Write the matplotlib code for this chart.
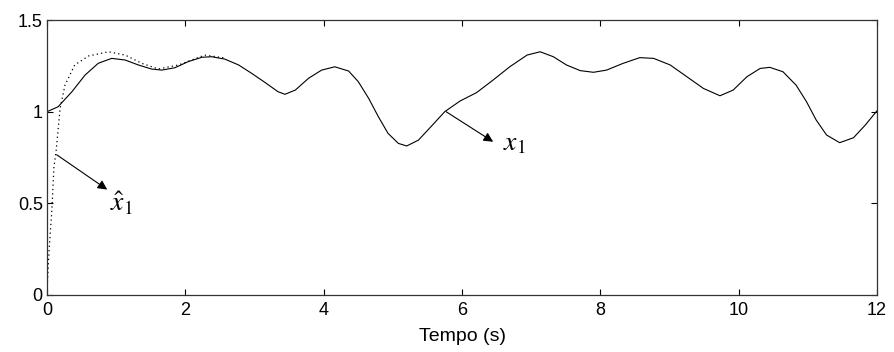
import matplotlib
matplotlib.use("Agg")
import matplotlib.pyplot as plt

# True state x1
t_x1 = [0.00, 0.16, 0.36, 0.55, 0.74, 0.935, 1.13, 1.32, 1.51, 1.66, 1.85, 2.04,
        2.24, 2.38, 2.57, 2.77, 2.96, 3.15, 3.34, 3.44, 3.59, 3.78, 3.97, 4.16,
        4.36, 4.50, 4.65, 4.79, 4.93, 5.08, 5.20, 5.37, 5.56, 5.75, 5.97, 6.21,
        6.45, 6.69, 6.94, 7.13, 7.32, 7.51, 7.71, 7.90, 8.09, 8.33, 8.57, 8.77,
        9.01, 9.25, 9.49, 9.73, 9.92, 10.12, 10.31, 10.45, 10.64, 10.83, 10.98, 11.12,
        11.27, 11.46, 11.66, 11.83, 12.00]
x1 = [1.000, 1.027, 1.109, 1.200, 1.264, 1.291, 1.282, 1.255, 1.233, 1.227, 1.240, 1.273,
      1.297, 1.300, 1.287, 1.255, 1.209, 1.160, 1.109, 1.095, 1.118, 1.182, 1.227, 1.245,
      1.222, 1.164, 1.073, 0.973, 0.882, 0.827, 0.813, 0.845, 0.922, 1.000, 1.058, 1.104,
      1.173, 1.245, 1.309, 1.327, 1.300, 1.255, 1.224, 1.215, 1.227, 1.264, 1.295, 1.291,
      1.255, 1.191, 1.127, 1.087, 1.118, 1.191, 1.236, 1.242, 1.218, 1.145, 1.055, 0.955,
      0.873, 0.831, 0.858, 0.927, 1.005]

# Estimate x1_hat (converges onto x1)
t_xh = [0.00, 0.005, 0.03, 0.07, 0.10, 0.13, 0.16, 0.19, 0.26, 0.40, 0.60, 0.89,
        1.13, 1.37, 1.61, 1.90, 2.28, 2.57]
xh = [0.000, 0.064, 0.245, 0.464, 0.700, 0.780, 0.900, 1.020, 1.145, 1.255, 1.304, 1.327,
      1.309, 1.264, 1.233, 1.255, 1.309, 1.293]

x_ticks = [0, 2, 4, 6, 8, 10, 12]
y_ticks = [0, 0.5, 1, 1.5]
y_tick_labels = ["0", "0.5", "1", "1.5"]

plt.rcParams["mathtext.fontset"] = "stix"

fig = plt.figure(figsize=(8.94, 3.52), dpi=100)
ax = fig.add_axes([0.0526, 0.162, 0.9284, 0.781])

ax.plot(t_xh, xh, color="black", lw=0.9, linestyle=(0, (1, 2.5)))
ax.plot(t_x1, x1, color="black", lw=0.8)

ax.set_xlim(0, 12)
ax.set_ylim(0, 1.5)
ax.set_xticks(x_ticks)
ax.set_yticks(y_ticks)
ax.set_yticklabels(y_tick_labels)
ax.tick_params(direction="in", length=4, width=0.8, top=True, right=True,
               labelsize=13, colors="black")
ax.tick_params(axis="x", pad=5)
ax.tick_params(axis="y", pad=3)
for lab in ax.get_xticklabels() + ax.get_yticklabels():
    lab.set_family("Liberation Sans")
for s in ax.spines.values():
    s.set_linewidth(0.9)
    s.set_color("#333333")

ax.set_xlabel("Tempo (s)", fontsize=14, family="Liberation Sans", labelpad=6.5)

ax.annotate("", xy=(0.87, 0.575), xytext=(0.14, 0.765),
            arrowprops=dict(arrowstyle="-|>", color="black", lw=0.8,
                            mutation_scale=14, shrinkA=0, shrinkB=0))
ax.text(1.08, 0.50, r"$\hat{x}_1$", fontsize=20, ha="center", va="center")

ax.annotate("", xy=(6.45, 0.836), xytext=(5.77, 1.0),
            arrowprops=dict(arrowstyle="-|>", color="black", lw=0.8,
                            mutation_scale=14, shrinkA=0, shrinkB=0))
ax.text(6.75, 0.83, r"$x_1$", fontsize=20, ha="center", va="center")

fig.savefig("out.png", dpi=100)
